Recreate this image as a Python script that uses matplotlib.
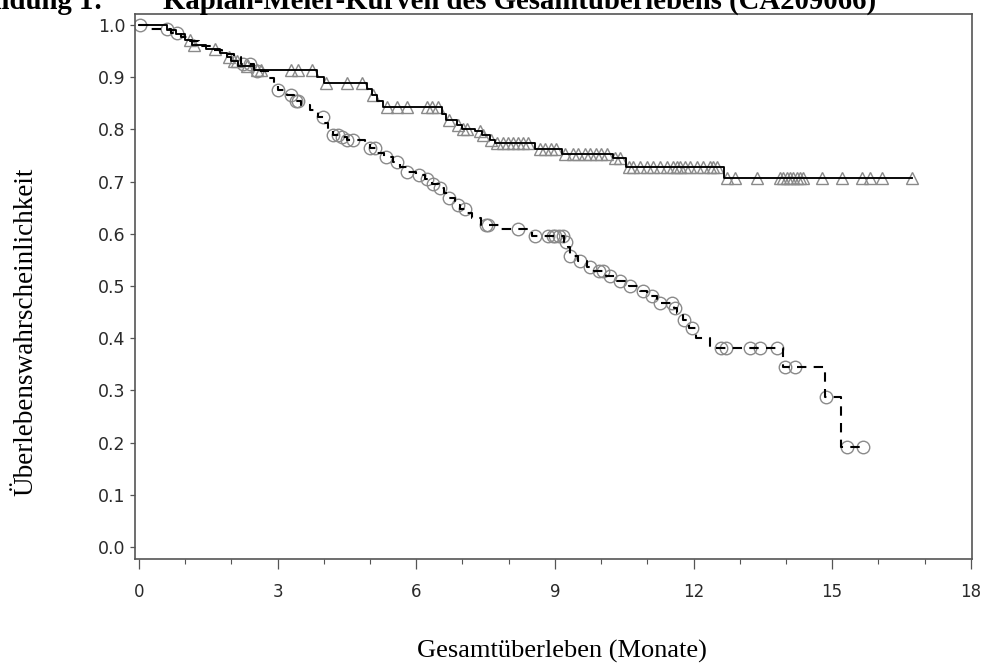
import numpy as np
import matplotlib
matplotlib.use('Agg')
from matplotlib import pyplot as plt
from matplotlib.ticker import MultipleLocator

# solid curve with triangles (upper arm)
times_a = [0, 0.6, 0.8, 1.0, 1.15, 1.45, 1.75, 1.9, 2.0, 2.15, 2.5, 3.85, 4.0, 4.93, 5.05,
           5.15, 5.28, 6.56, 6.65, 6.88, 7.0, 7.27, 7.42, 7.6, 7.7, 8.57, 9.15, 10.25, 10.55, 12.65]
surv_a = [1.0, 0.99, 0.982, 0.972, 0.962, 0.954, 0.946, 0.938, 0.93, 0.922, 0.914, 0.901, 0.889,
          0.878, 0.866, 0.855, 0.843, 0.83, 0.818, 0.808, 0.80, 0.796, 0.789, 0.78, 0.773, 0.762,
          0.752, 0.745, 0.728, 0.706]
cens_a = [1.1, 1.2, 1.65, 1.95, 2.05, 2.12, 2.34, 2.55, 2.65, 3.3, 3.45, 3.75, 4.05, 4.5, 4.83,
          5.07, 5.37, 5.58, 5.8, 6.23, 6.35, 6.47, 6.7, 6.9, 7.02, 7.1, 7.38, 7.45, 7.62, 7.75,
          7.88, 7.99, 8.1, 8.2, 8.31, 8.42, 8.68, 8.79, 8.92, 9.03, 9.22, 9.4, 9.5, 9.65, 9.77,
          9.9, 10.0, 10.13, 10.3, 10.4, 10.6, 10.7, 10.84, 11.0, 11.13, 11.28, 11.43, 11.56,
          11.65, 11.71, 11.82, 11.93, 12.08, 12.21, 12.36, 12.43, 12.51, 12.72, 12.9, 13.37,
          13.87, 13.94, 14.02, 14.09, 14.16, 14.24, 14.31, 14.37, 14.78, 15.21, 15.64, 15.82,
          16.07, 16.72]

# dashed curve with circles (lower arm)
times_b = [0, 0.25, 0.7, 0.9, 1.1, 1.3, 1.55, 1.8, 2.05, 2.2, 2.5, 2.8, 2.92, 3.0, 3.2, 3.35,
           3.5, 3.7, 3.88, 4.0, 4.1, 4.2, 4.35, 4.5, 4.9, 5.0, 5.15, 5.3, 5.5, 5.65, 5.8, 6.0,
           6.2, 6.35, 6.5, 6.6, 6.7, 6.85, 6.95, 7.1, 7.2, 7.4, 7.8, 8.5, 9.2, 9.28, 9.32, 9.5,
           9.7, 9.85, 10.1, 10.35, 10.6, 10.85, 11.0, 11.2, 11.58, 11.65, 11.78, 11.9, 12.05,
           12.36, 13.94, 14.84, 15.2]
surv_b = [1.0, 0.992, 0.985, 0.977, 0.969, 0.96, 0.951, 0.944, 0.938, 0.925, 0.912, 0.898,
          0.885, 0.875, 0.865, 0.855, 0.847, 0.837, 0.824, 0.812, 0.80, 0.79, 0.785, 0.78,
          0.772, 0.764, 0.755, 0.747, 0.738, 0.728, 0.718, 0.712, 0.705, 0.695, 0.688, 0.678,
          0.668, 0.655, 0.648, 0.64, 0.63, 0.617, 0.609, 0.596, 0.585, 0.575, 0.558, 0.548,
          0.537, 0.528, 0.52, 0.51, 0.50, 0.49, 0.48, 0.468, 0.458, 0.448, 0.435, 0.42, 0.40,
          0.381, 0.345, 0.288, 0.192]
cens_b = [0.02, 0.6, 0.82, 2.25, 2.4, 2.55, 3.0, 3.3, 3.4, 3.45, 3.98, 4.2, 4.3, 4.4, 4.5,
          4.63, 5.0, 5.1, 5.35, 5.58, 5.8, 6.05, 6.23, 6.37, 6.52, 6.7, 6.9, 7.06, 7.5, 7.55,
          8.2, 8.57, 8.85, 8.95, 9.0, 9.1, 9.18, 9.25, 9.33, 9.55, 9.76, 9.95, 10.05, 10.2,
          10.4, 10.63, 10.9, 11.1, 11.28, 11.54, 11.6, 11.8, 11.96, 12.6, 12.7, 13.22, 13.44,
          13.8, 13.98, 14.2, 14.86, 15.32, 15.67]

x_ticks = [0, 3, 6, 9, 12, 15, 18]
y_ticks = [0.0, 0.1, 0.2, 0.3, 0.4, 0.5, 0.6, 0.7, 0.8, 0.9, 1.0]


def censor_y(times, surv, cens):
    idx = np.searchsorted(times, cens, side='right') - 1
    return np.array(surv)[idx]


fig = plt.figure(figsize=(9.82, 6.64), dpi=100)
ax = fig.add_axes([0.137, 0.158, 0.853, 0.821])

# censor marks
ax.plot(cens_a, censor_y(times_a, surv_a, cens_a), linestyle='none', marker='^',
        markersize=9, markerfacecolor='none', markeredgecolor='#8a8a8a', markeredgewidth=1.0,
        zorder=2)
ax.plot(cens_b, censor_y(times_b, surv_b, cens_b), linestyle='none', marker='o',
        markersize=9, markerfacecolor='none', markeredgecolor='#8a8a8a', markeredgewidth=1.0,
        zorder=2)

# step curves
xa = list(times_a) + [cens_a[-1]]
ya = list(surv_a) + [surv_a[-1]]
ax.step(xa, ya, where='post', color='black', linewidth=1.35, zorder=3)
xb = list(times_b) + [cens_b[-1]]
yb = list(surv_b) + [surv_b[-1]]
ax.step(xb, yb, where='post', color='black', linewidth=1.5, linestyle=(0, (4.5, 3.5)), zorder=3)

ax.set_xlim(-0.095, 18.03)
ax.set_ylim(-0.023, 1.021)
ax.set_xticks(x_ticks)
ax.xaxis.set_minor_locator(MultipleLocator(1))
ax.set_yticks(y_ticks)
ax.set_yticklabels(['%.1f' % v for v in y_ticks])

for s in ax.spines.values():
    s.set_color('#555555')
    s.set_linewidth(1.2)

ax.tick_params(axis='y', direction='out', length=3.5, width=0.9, color='#555555',
               labelsize=12.5, labelcolor='#2a2a2a', pad=3)
ax.tick_params(axis='x', which='major', direction='out', length=7.5, width=0.9,
               color='#555555', labelsize=12, labelcolor='#2a2a2a', pad=10)
ax.tick_params(axis='x', which='minor', direction='out', length=3.5, width=0.8,
               color='#555555')

fig.text(0.572, 0.019, 'Gesamtüberleben (Monate)', family='Liberation Serif', fontsize=19,
         ha='center', va='center')
fig.text(0.026, 0.50, 'Überlebenswahrscheinlichkeit', family='Liberation Serif', fontsize=19.5,
         rotation=90, ha='center', va='center')

# title is cut off at the top of the page
fig.text(0.105, 1 - 9 / 664, 'Abbildung 1:', family='Liberation Serif', fontweight='bold',
         fontsize=20.7, ha='right', va='baseline')
fig.text(0.166, 1 - 9 / 664, 'Kaplan-Meier-Kurven des Gesamtüberlebens (CA209066)',
         family='Liberation Serif', fontweight='bold', fontsize=20.7, ha='left', va='baseline')

fig.savefig('out.png', dpi=100)
